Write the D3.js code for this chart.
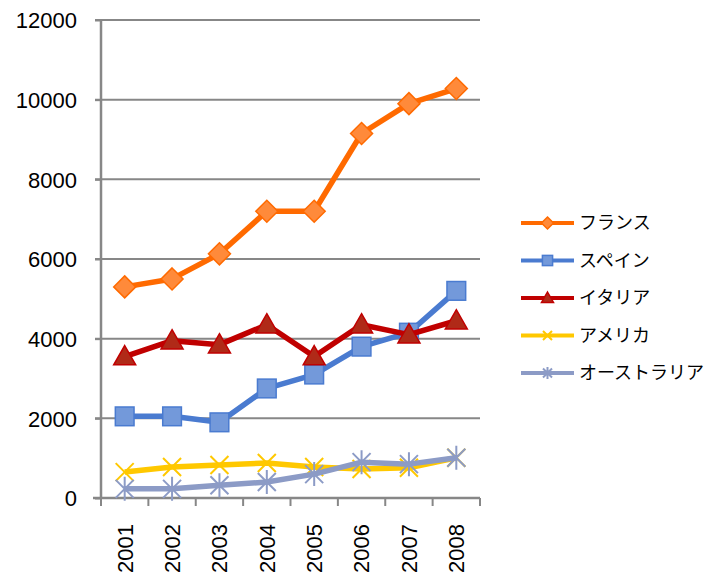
<!DOCTYPE html>
<html>
<head>
<meta charset="utf-8">
<script src="https://cdn.jsdelivr.net/npm/d3@7"></script>
<style>
body { margin: 0; background: #fff; }
text { font-family: "Noto Sans CJK JP", "Liberation Sans", sans-serif; fill: #000; }
</style>
</head>
<body>
<svg width="706" height="576"></svg>
<script>
var years = ["2001", "2002", "2003", "2004", "2005", "2006", "2007", "2008"];
var yTicks = [0, 2000, 4000, 6000, 8000, 10000, 12000];
var names = ["フランス", "スペイン", "イタリア", "アメリカ", "オーストラリア"];
var france = [5300, 5500, 6130, 7200, 7200, 9150, 9900, 10280];
var spain = [2050, 2050, 1900, 2750, 3100, 3800, 4150, 5200];
var italy = [3550, 3950, 3850, 4350, 3550, 4350, 4100, 4450];
var america = [650, 780, 830, 880, 780, 730, 760, 1010];
var australia = [230, 230, 320, 400, 600, 900, 850, 1010];

var series = [
  {name: names[0], values: france, line: "#FF6A00", fill: "#FF8A3A", marker: "diamond"},
  {name: names[1], values: spain, line: "#4A7BD0", fill: "#7399DA", marker: "square"},
  {name: names[2], values: italy, line: "#C00000", fill: "#B02A18", marker: "triangle"},
  {name: names[3], values: america, line: "#FFC800", fill: "none", marker: "x"},
  {name: names[4], values: australia, line: "#8C9BC6", fill: "none", marker: "star"}
];

var svg = d3.select("svg");
var plotLeft = 101, plotRight = 480, plotTop = 20, plotBottom = 498;

var xScale = d3.scaleBand().domain(years).range([plotLeft, plotRight]);
var yScale = d3.scaleLinear().domain([0, 12000]).range([plotBottom, plotTop]);

// gridlines
svg.append("g")
  .selectAll("line")
  .data(yTicks.slice(1))
  .enter()
  .append("line")
  .attr("x1", plotLeft - 6)
  .attr("x2", plotRight)
  .attr("y1", d => yScale(d))
  .attr("y2", d => yScale(d))
  .attr("stroke", "#878787")
  .attr("stroke-width", 2);

// y axis
var yAxis = svg.append("g")
  .attr("transform", "translate(" + plotLeft + ",0)")
  .call(d3.axisLeft(yScale).tickValues(yTicks).tickSize(6).tickPadding(18).tickFormat(d3.format("d")));
yAxis.selectAll("line").attr("stroke", "#878787").attr("stroke-width", 2);
yAxis.select(".domain").attr("stroke", "#878787").attr("stroke-width", 2.5).attr("d", "M0," + plotTop + "V" + plotBottom);
yAxis.selectAll("text")
  .attr("dy", "0.36em")
  .style("font-size", "22px")
  .style("font-family", "'Liberation Sans', sans-serif");

// x axis
var xAxis = svg.append("g")
  .attr("transform", "translate(0," + plotBottom + ")")
  .call(d3.axisBottom(xScale).tickSize(0).tickFormat(""));
xAxis.select(".domain").attr("stroke", "#878787").attr("stroke-width", 2.5).attr("d", "M" + (plotLeft - 8) + ",0H" + plotRight);

var bounds = years.map(d => xScale(d)).concat([plotRight]);
xAxis.selectAll(".xtick")
  .data(bounds)
  .enter()
  .append("line")
  .attr("x1", d => d)
  .attr("x2", d => d)
  .attr("y1", 0)
  .attr("y2", 8)
  .attr("stroke", "#878787")
  .attr("stroke-width", 2);

xAxis.selectAll(".xlabel")
  .data(years)
  .enter()
  .append("text")
  .attr("transform", d => "translate(" + (xScale(d) + xScale.bandwidth() / 2) + ",26) rotate(-90)")
  .attr("text-anchor", "end")
  .attr("dy", "0.36em")
  .style("font-size", "22px")
  .style("font-family", "'Liberation Sans', sans-serif")
  .text(d => d);

function cx(i) { return xScale(years[i]) + xScale.bandwidth() / 2; }

function drawMarker(g, s, x, y, size) {
  var h = size / 2;
  if (s.marker === "diamond") {
    g.append("path")
      .attr("d", "M" + x + "," + (y - h) + "L" + (x + h) + "," + y + "L" + x + "," + (y + h) + "L" + (x - h) + "," + y + "Z")
      .attr("fill", s.fill).attr("stroke", s.line).attr("stroke-width", 1.5);
  } else if (s.marker === "square") {
    g.append("rect")
      .attr("x", x - h * 0.85).attr("y", y - h * 0.85)
      .attr("width", h * 1.7).attr("height", h * 1.7)
      .attr("fill", s.fill).attr("stroke", s.line).attr("stroke-width", 1.5);
  } else if (s.marker === "triangle") {
    g.append("path")
      .attr("d", "M" + x + "," + (y - h) + "L" + (x + h) + "," + (y + h * 0.75) + "L" + (x - h) + "," + (y + h * 0.75) + "Z")
      .attr("fill", s.fill).attr("stroke", s.line).attr("stroke-width", 1.5);
  } else {
    var k = h * 0.75;
    var d = "M" + (x - k) + "," + (y - k) + "L" + (x + k) + "," + (y + k) +
            "M" + (x + k) + "," + (y - k) + "L" + (x - k) + "," + (y + k);
    if (s.marker === "star") d += "M" + x + "," + (y - h) + "L" + x + "," + (y + h);
    g.append("path").attr("d", d).attr("fill", "none").attr("stroke", s.line).attr("stroke-width", 2);
  }
}

var line = d3.line()
  .x((d, i) => cx(i))
  .y(d => yScale(d));

series.forEach(function(s) {
  var g = svg.append("g");
  g.append("path")
    .datum(s.values)
    .attr("d", line)
    .attr("fill", "none")
    .attr("stroke", s.line)
    .attr("stroke-width", 5.5)
    .attr("stroke-linejoin", "round");
  s.values.forEach(function(v, i) {
    drawMarker(g, s, cx(i), yScale(v), s.marker === "x" || s.marker === "star" ? 24 : 22);
  });
});

// legend
var legend = svg.append("g").attr("transform", "translate(521,223)");
series.forEach(function(s, i) {
  var row = legend.append("g").attr("transform", "translate(0," + (i * 37.5) + ")");
  row.append("line")
    .attr("x1", 0).attr("x2", 53).attr("y1", 0).attr("y2", 0)
    .attr("stroke", s.line).attr("stroke-width", 4);
  drawMarker(row, s, 26.5, 0, 12);
  row.append("text")
    .attr("x", 58)
    .attr("dy", "0.35em")
    .style("font-size", "18px")
    .text(s.name);
});
</script>
</body>
</html>
